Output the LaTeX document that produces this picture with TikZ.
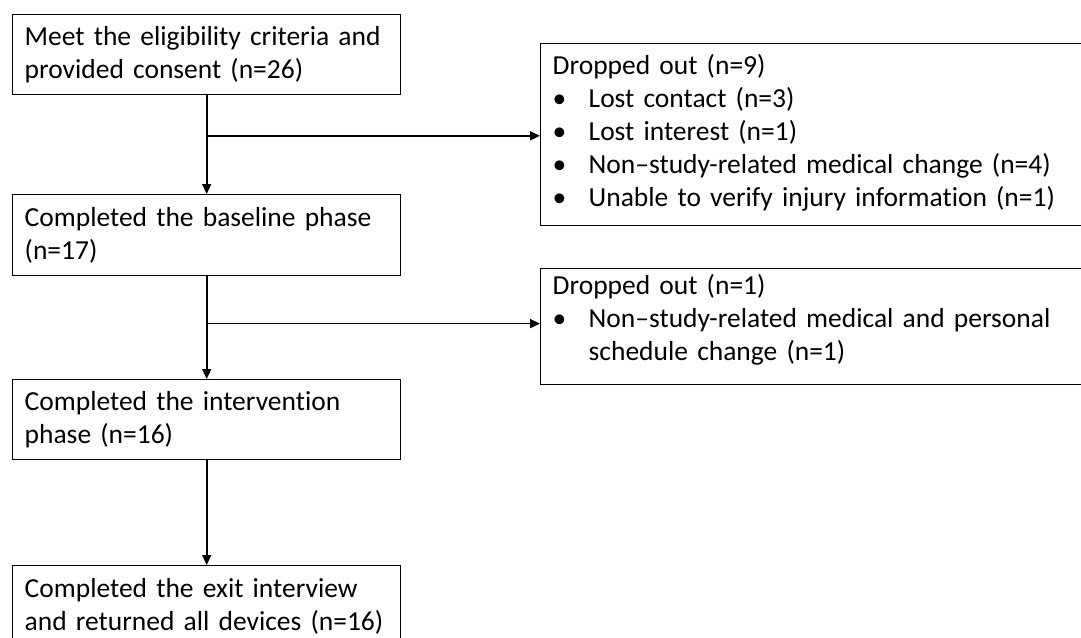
\documentclass[tikz,border=0pt]{standalone}
\usepackage{fontspec}
\setmainfont{Carlito}[Ligatures=NoCommon]
\usetikzlibrary{arrows.meta,calc}
\begin{document}
\begin{tikzpicture}[x=1pt,y=-1pt,
  box/.style={draw=black,line width=1.4pt,anchor=north west,align=left,
    inner xsep=12pt,inner ysep=0pt,font=\fontsize{27.5}{33}\selectfont,text=black},
  conn/.style={line width=1.7pt,-{Triangle[length=10pt,width=9pt]}},
]
\useasboundingbox (0,0) rectangle (1081,637);
\newcommand{\bul}{\makebox[36pt][l]{\textbullet}}
\node[box,minimum width=388pt,minimum height=80pt,text width=364pt] (b1) at (12,14)
  {Meet the eligibility criteria and\\provided consent (n=26)};
\node[box,minimum width=388pt,minimum height=81pt,text width=364pt] (b2) at (12,194)
  {Completed the baseline phase\\(n=17)};
\node[box,minimum width=388pt,minimum height=80pt,text width=364pt] (b3) at (12,379)
  {Completed the intervention\\phase (n=16)};
\node[box,minimum width=388pt,minimum height=82pt,text width=364pt] (b4) at (12,565)
  {Completed the exit interview\\and returned all devices (n=16)};
\node[box,minimum width=580pt,minimum height=182pt,text width=556pt] (r1) at (540,43)
  {Dropped out (n=9)\\
   \bul Lost contact (n=3)\\
   \bul Lost interest (n=1)\\
   \bul Non–study-related medical change (n=4)\\
   \bul Unable to verify injury information (n=1)\rule[-8pt]{0pt}{0pt}};
\node[box,minimum width=580pt,minimum height=116pt,text width=556pt] (r2) at (540,268)
  {Dropped out (n=1)\\
   \bul Non–study-related medical and personal\\
   \hspace*{36pt}schedule change (n=1)\rule[-18pt]{0pt}{0pt}};
\draw[conn] (b1.south) -- (b2.north);
\draw[conn] (b2.south) -- (b3.north);
\draw[conn] (b3.south) -- (b4.north);
\coordinate (j1) at ($(b1.south)!0.41!(b2.north)$);
\coordinate (j2) at ($(b2.south)!0.46!(b3.north)$);
\draw[conn] (j1) -- (j1 -| r1.west);
\draw[conn] (j2) -- (j2 -| r2.west);
\end{tikzpicture}
\end{document}
